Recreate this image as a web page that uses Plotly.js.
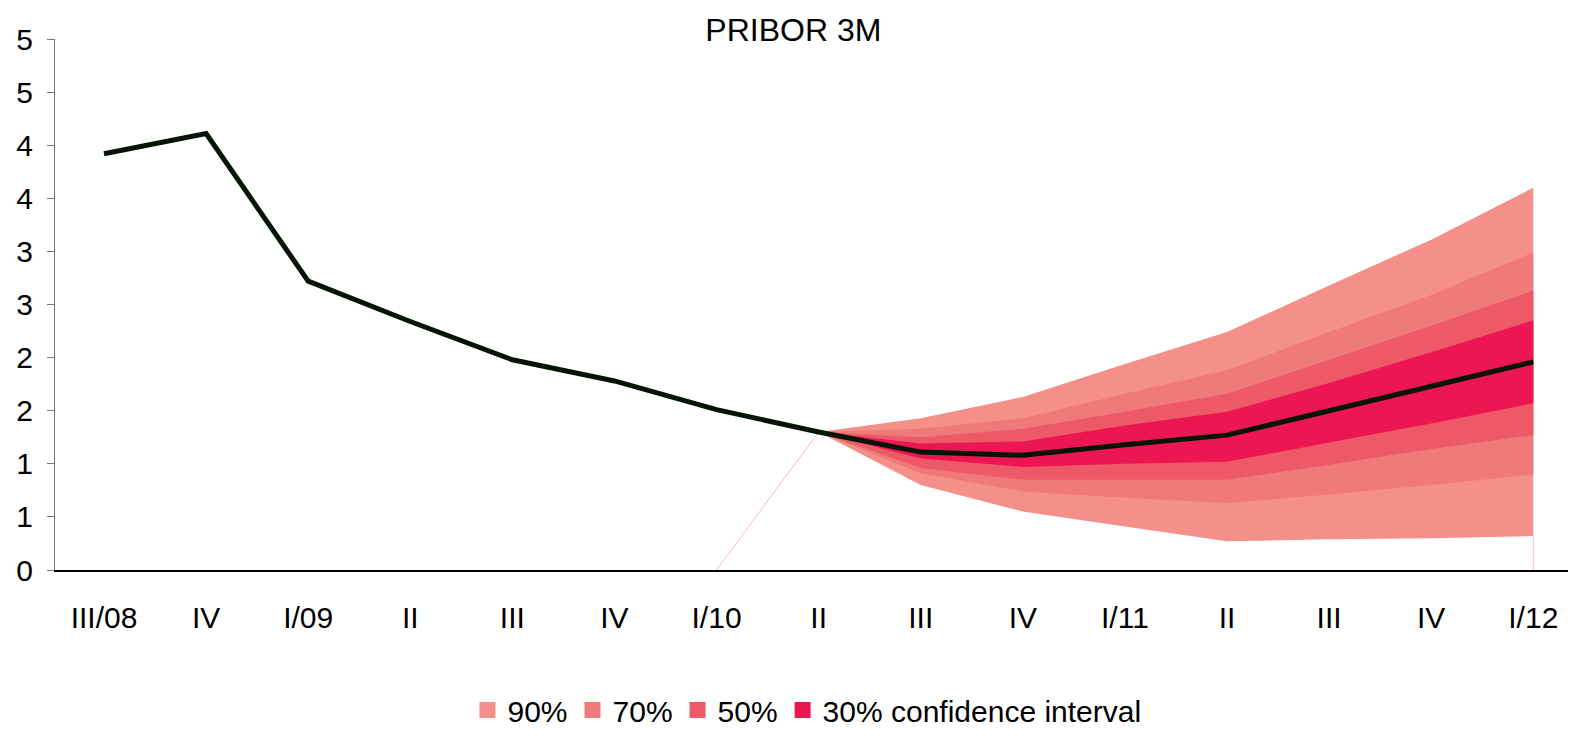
<!DOCTYPE html>
<html>
<head>
<meta charset="utf-8">
<script src="https://cdn.plot.ly/plotly-3.0.1.min.js"></script>
<style>
  html, body { margin: 0; padding: 0; background: #fff; }
  #pribor { width: 1571px; height: 736px; }
</style>
</head>
<body>
<div id="pribor"></div>
<script>
// quarters on the x axis
const quarters = ['III/08', 'IV', 'I/09', 'II', 'III', 'IV', 'I/10', 'II', 'III', 'IV', 'I/11', 'II', 'III', 'IV', 'I/12'];

// PRIBOR 3M, history + central forecast
const pribor = [3.92, 4.11, 2.72, 2.34, 1.98, 1.78, 1.51, 1.30, 1.11, 1.08, 1.18, 1.27, 1.50, 1.73, 1.96];

// fan starts at II/10 (index 7)
const fanStart = 7;
const hi90 = [1.30, 1.43, 1.63, 1.94, 2.24, 2.68, 3.11, 3.60];
const hi70 = [1.30, 1.33, 1.43, 1.66, 1.88, 2.24, 2.59, 2.99];
const hi50 = [1.30, 1.25, 1.33, 1.49, 1.66, 1.98, 2.30, 2.63];
const hi30 = [1.30, 1.19, 1.21, 1.36, 1.49, 1.76, 2.05, 2.35];
const lo30 = [1.30, 1.05, 0.97, 1.00, 1.02, 1.20, 1.38, 1.57];
const lo50 = [1.30, 0.96, 0.85, 0.85, 0.85, 0.99, 1.14, 1.27];
const lo70 = [1.30, 0.91, 0.74, 0.68, 0.63, 0.71, 0.80, 0.90];
const lo90 = [1.30, 0.80, 0.55, 0.41, 0.27, 0.29, 0.30, 0.32];

// y ticks every 0.5, shown rounded like the original
const yTickVals = [0, 0.5, 1, 1.5, 2, 2.5, 3, 3.5, 4, 4.5, 5];
const yTickText = ['0', '1', '1', '2', '2', '3', '3', '4', '4', '5', '5'];

const bands = [
    { name: '90%', hi: hi90, lo: lo90, color: '#F48F89' },
    { name: '70%', hi: hi70, lo: lo70, color: '#F07A7A' },
    { name: '50%', hi: hi50, lo: lo50, color: '#EE5968' },
    { name: '30% confidence interval', hi: hi30, lo: lo30, color: '#EC1752' }
];

const xIdx = quarters.map((q, i) => i);
const fanX = hi90.map((v, i) => fanStart + i);
const lastX = fanX[fanX.length - 1];

const traces = [];

bands.forEach(b => {
    traces.push({
        x: fanX.concat(fanX.slice().reverse()),
        y: b.hi.concat(b.lo.slice().reverse()),
        type: 'scatter',
        mode: 'none',
        fill: 'toself',
        fillcolor: b.color,
        hoverinfo: 'skip',
        showlegend: false
    });
});

// thin edge of the stacked base (Excel artefact)
traces.push({
    x: [fanStart - 1, fanStart, null, lastX, lastX],
    y: [0, pribor[fanStart], null, lo90[lo90.length - 1], 0],
    type: 'scatter',
    mode: 'lines',
    line: { color: 'rgba(240,110,110,0.6)', width: 0.8 },
    hoverinfo: 'skip',
    showlegend: false
});

traces.push({
    x: xIdx,
    y: pribor,
    type: 'scatter',
    mode: 'lines',
    name: 'PRIBOR 3M',
    line: { color: '#061406', width: 5 },
    showlegend: false
});

// legend squares
bands.forEach(b => {
    traces.push({
        x: [null],
        y: [null],
        type: 'scatter',
        mode: 'markers',
        name: b.name,
        marker: { symbol: 'square', size: 16, color: b.color }
    });
});

const layout = {
    width: 1571,
    height: 736,
    margin: { l: 55, r: 3, t: 39, b: 166 },
    paper_bgcolor: '#fff',
    plot_bgcolor: '#fff',
    font: { family: 'Liberation Sans, Arial, sans-serif', size: 30, color: '#000' },
    title: {
        text: 'PRIBOR 3M',
        font: { size: 32, color: '#000' },
        x: 0.505,
        xanchor: 'center',
        y: 0.96,
        yanchor: 'middle'
    },
    xaxis: {
        range: [-0.48, 14.34],
        tickvals: xIdx,
        ticktext: quarters,
        showgrid: false,
        zeroline: false,
        showline: true,
        linecolor: '#000',
        linewidth: 1.5,
        ticks: '',
        ticklabelstandoff: 20,
        tickfont: { size: 30 }
    },
    yaxis: {
        range: [0, 5],
        tickvals: yTickVals,
        ticktext: yTickText,
        showgrid: false,
        zeroline: false,
        showline: true,
        linecolor: '#777',
        linewidth: 1,
        ticks: 'outside',
        ticklen: 7,
        tickcolor: '#777',
        ticklabelstandoff: 8,
        tickfont: { size: 30 }
    },
    showlegend: true,
    legend: {
        orientation: 'h',
        x: 0.497,
        xanchor: 'center',
        yref: 'container',
        y: -0.014,
        yanchor: 'bottom',
        font: { size: 30 },
        itemwidth: 30,
        traceorder: 'normal'
    }
};

Plotly.newPlot('pribor', traces, layout, { displayModeBar: false, staticPlot: true });
</script>
</body>
</html>
